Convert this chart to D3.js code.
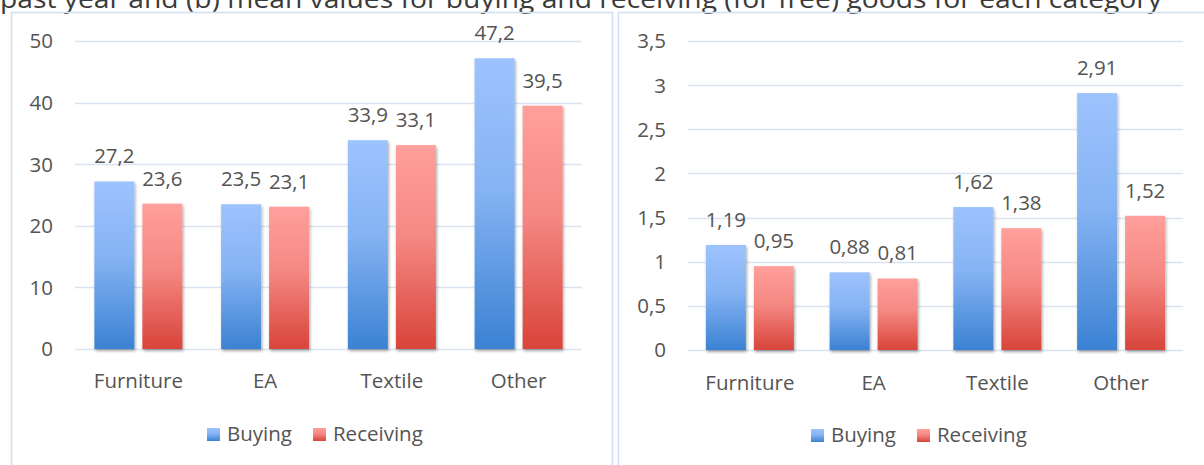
<!DOCTYPE html>
<html>
<head>
<meta charset="utf-8">
<script src="https://cdn.jsdelivr.net/npm/d3@7"></script>
<style>
  body { margin: 0; background: #fff; }
  svg { display: block; font-family: "Open Sans", "Noto Sans", sans-serif; }
</style>
</head>
<body>
<svg id="chart" width="1204" height="465"></svg>
<script>
// data
var categories = ["Furniture", "EA", "Textile", "Other"];
var seriesNames = ["Buying", "Receiving"];

// (a) left panel
var leftBuying = [27.2, 23.5, 33.9, 47.2];
var leftReceiving = [23.6, 23.1, 33.1, 39.5];
var leftTicks = [0, 10, 20, 30, 40, 50];

// (b) right panel
var rightBuying = [1.19, 0.88, 1.62, 2.91];
var rightReceiving = [0.95, 0.81, 1.38, 1.52];
var rightTicks = [0, 0.5, 1, 1.5, 2, 2.5, 3, 3.5];

var titleText = "past year and (b) mean values for buying and receiving (for free) goods for each category";

var fontSize = 20.5;
var textColor = "#545454";

var svg = d3.select("#chart");
var defs = svg.append("defs");

// gradients like the office style bars
var grads = [
    { id: "gradBlue", top: "#9dc3fd", bottom: "#3b82d3" },
    { id: "gradRed", top: "#ff9f9b", bottom: "#d8443a" }
];
grads.forEach(function (g) {
    var lg = defs.append("linearGradient")
        .attr("id", g.id)
        .attr("x1", 0).attr("y1", 0).attr("x2", 0).attr("y2", 1);
    lg.append("stop").attr("offset", "0%").attr("stop-color", g.top);
    lg.append("stop").attr("offset", "45%").attr("stop-color", d3.interpolateRgb(g.top, g.bottom)(0.25));
    lg.append("stop").attr("offset", "100%").attr("stop-color", g.bottom);
});

var shadow = defs.append("filter").attr("id", "barShadow")
    .attr("x", "-20%").attr("y", "-5%").attr("width", "150%").attr("height", "115%");
shadow.append("feDropShadow")
    .attr("dx", 1).attr("dy", 2)
    .attr("stdDeviation", 1.4)
    .attr("flood-color", "#000")
    .attr("flood-opacity", 0.35);

// clipped caption line at the top (cut off in the original too)
svg.append("text")
    .attr("x", 0)
    .attr("y", 8)
    .attr("font-size", 25)
    .attr("fill", "#3a3a3a")
    .attr("textLength", 1162)
    .attr("lengthAdjust", "spacingAndGlyphs")
    .text(titleText);

// panel borders
svg.append("rect")
    .attr("x", 11.5).attr("y", 12.5)
    .attr("width", 601).attr("height", 470)
    .attr("fill", "none").attr("stroke", "#d3e0f1").attr("stroke-width", 1.6);
svg.append("rect")
    .attr("x", 618.5).attr("y", 12.5)
    .attr("width", 600).attr("height", 470)
    .attr("fill", "none").attr("stroke", "#d3e0f1").attr("stroke-width", 1.6);

function fmt(v, digits) {
    return v.toFixed(digits).replace(".", ",");
}
function fmtTick(v) {
    return String(v).replace(".", ",");
}

function drawPanel(opts) {
    var g = svg.append("g");
    var values = [opts.buying, opts.receiving];

    var x0 = d3.scaleBand()
        .domain(categories)
        .range([opts.left, opts.right])
        .padding(0);

    var bw = x0.bandwidth();
    var x1 = d3.scaleBand()
        .domain(seriesNames)
        .range([(bw - 88) / 2, (bw + 88) / 2])
        .paddingInner(1 / 6);

    var y = d3.scaleLinear()
        .domain([0, opts.max])
        .range([opts.bottom, opts.top]);

    // gridlines
    g.selectAll(".grid")
        .data(opts.ticks)
        .enter()
        .append("line")
        .attr("x1", opts.left)
        .attr("x2", opts.right)
        .attr("y1", function (d) { return Math.round(y(d)) + 0.5; })
        .attr("y2", function (d) { return Math.round(y(d)) + 0.5; })
        .attr("stroke", "#d9e3f2")
        .attr("stroke-width", 1.5);

    // tick labels
    g.selectAll(".tick")
        .data(opts.ticks)
        .enter()
        .append("text")
        .attr("x", opts.left - 22)
        .attr("y", function (d) { return y(d); })
        .attr("dy", "0.36em")
        .attr("text-anchor", "end")
        .attr("font-size", fontSize)
        .attr("fill", textColor)
        .text(fmtTick);

    // bars
    var rows = [];
    categories.forEach(function (c, i) {
        seriesNames.forEach(function (s, j) {
            rows.push({ cat: c, series: s, value: values[j][i], k: j });
        });
    });

    g.selectAll(".bar")
        .data(rows)
        .enter()
        .append("rect")
        .attr("x", function (d) { return x0(d.cat) + x1(d.series); })
        .attr("y", function (d) { return y(d.value); })
        .attr("width", x1.bandwidth())
        .attr("height", function (d) { return y(0) - y(d.value); })
        .attr("fill", function (d) { return d.k == 0 ? "url(#gradBlue)" : "url(#gradRed)"; })
        .attr("filter", "url(#barShadow)");

    // value labels
    g.selectAll(".val")
        .data(rows)
        .enter()
        .append("text")
        .attr("x", function (d) { return x0(d.cat) + x1(d.series) + x1.bandwidth() / 2; })
        .attr("y", function (d) { return y(d.value) - 18; })
        .attr("text-anchor", "middle")
        .attr("font-size", fontSize)
        .attr("fill", textColor)
        .text(function (d) { return fmt(d.value, opts.digits); });

    // category labels
    g.selectAll(".cat")
        .data(categories)
        .enter()
        .append("text")
        .attr("x", function (d) { return x0(d) + bw / 2; })
        .attr("y", opts.catY)
        .attr("text-anchor", "middle")
        .attr("font-size", fontSize)
        .attr("fill", textColor)
        .text(function (d) { return d; });

    // legend
    var leg = g.append("g");
    var lx = opts.legendX;
    seriesNames.forEach(function (s, j) {
        leg.append("rect")
            .attr("x", lx)
            .attr("y", opts.legendY - 13)
            .attr("width", 13)
            .attr("height", 13)
            .attr("fill", j == 0 ? "url(#gradBlue)" : "url(#gradRed)");
        var t = leg.append("text")
            .attr("x", lx + 20)
            .attr("y", opts.legendY)
            .attr("font-size", fontSize)
            .attr("fill", textColor)
            .text(s);
        lx = lx + 20 + t.node().getComputedTextLength() + 21;
    });
}

drawPanel({
    buying: leftBuying, receiving: leftReceiving, ticks: leftTicks,
    max: 50, digits: 1,
    left: 75, right: 582, top: 41, bottom: 349,
    catY: 388, legendX: 207, legendY: 441
});

drawPanel({
    buying: rightBuying, receiving: rightReceiving, ticks: rightTicks,
    max: 3.5, digits: 2,
    left: 688, right: 1183, top: 41, bottom: 350,
    catY: 390, legendX: 811, legendY: 442
});
</script>
</body>
</html>
